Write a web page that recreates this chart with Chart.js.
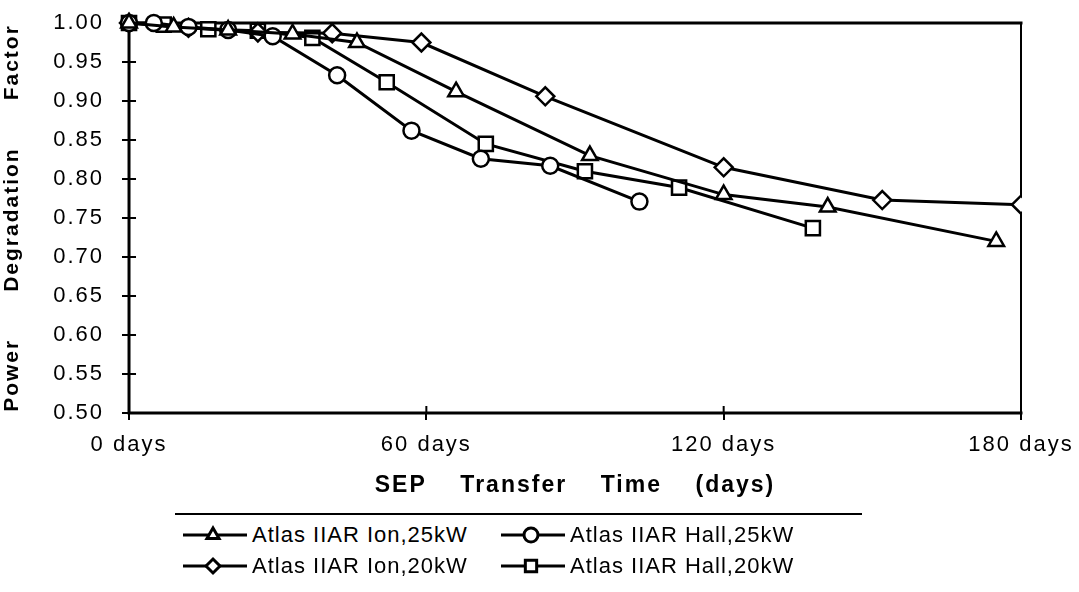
<!DOCTYPE html>
<html>
<head>
<meta charset="utf-8">
<script src="https://cdn.jsdelivr.net/npm/chart.js@4.4.1/dist/chart.umd.min.js"></script>
<style>
  html, body { margin: 0; padding: 0; background: #fff; }
  #wrap { position: relative; width: 1079px; height: 592px; overflow: hidden; }
  canvas#degradation { display: block; }
  #legend {
    position: absolute; left: 175px; top: 513px; width: 687px;
    border-top: 2px solid #000; padding: 6px 0 0 8px; box-sizing: border-box;
    display: grid; grid-template-columns: 318px auto; row-gap: 3px;
    font-family: 'Liberation Sans', sans-serif; font-size: 22px; letter-spacing: 1px; color: #000;
  }
  #legend .item { display: flex; align-items: center; height: 28px; white-space: nowrap; }
  #legend .item canvas { display: block; margin-right: 5px; }
</style>
</head>
<body>
<div id="wrap">
  <canvas id="degradation" width="1079" height="500"></canvas>
  <div id="legend"></div>
</div>
<script>
// series, in legend order (row by row)
const seriesNames = ['Atlas IIAR Ion,25kW', 'Atlas IIAR Hall,25kW', 'Atlas IIAR Ion,20kW', 'Atlas IIAR Hall,20kW'];
const seriesMarkers = ['triangle', 'circle', 'rectRot', 'rect'];

const ion25Days = [0, 9, 20, 33, 46, 66, 93, 120, 141, 175];
const ion25Values = [1.000, 0.995, 0.991, 0.986, 0.975, 0.912, 0.830, 0.780, 0.764, 0.720];

const hall25Days = [0, 5, 12, 20, 29, 42, 57, 71, 85, 103];
const hall25Values = [1.000, 1.000, 0.995, 0.991, 0.983, 0.933, 0.862, 0.826, 0.817, 0.771];

const ion20Days = [0, 12, 26, 41, 59, 84, 120, 152, 180];
const ion20Values = [1.000, 0.994, 0.988, 0.987, 0.975, 0.906, 0.815, 0.773, 0.767];

const hall20Days = [0, 7, 16, 26, 37, 52, 72, 92, 111, 138];
const hall20Values = [1.000, 0.998, 0.992, 0.990, 0.981, 0.924, 0.845, 0.810, 0.789, 0.737];

const xTicks = [0, 60, 120, 180];
const xTickLabels = ['0 days', '60 days', '120 days', '180 days'];

const allDays = [ion25Days, hall25Days, ion20Days, hall20Days];
const allValues = [ion25Values, hall25Values, ion20Values, hall20Values];
const markerRadius = {triangle: 9, circle: 8, rectRot: 9, rect: 10};

function toPoints(days, values) {
  return days.map((d, i) => ({x: d, y: values[i]}));
}

// little "line with marker" picture for the legend
function legendSample(style) {
  const c = document.createElement('canvas');
  c.width = 64;
  c.height = 20;
  const g = c.getContext('2d');
  g.strokeStyle = '#000';
  g.lineWidth = 3;
  g.beginPath();
  g.moveTo(0, 10);
  g.lineTo(64, 10);
  g.stroke();
  g.fillStyle = '#fff';
  Chart.helpers.drawPoint(g, {pointStyle: style, radius: style === 'rect' ? 8 : 7, borderWidth: 2.5, rotation: 0}, 30, 10);
  return c;
}

const datasets = seriesNames.map((name, i) => ({
  label: name,
  data: toPoints(allDays[i], allValues[i]),
  borderColor: '#000',
  borderWidth: 3,
  pointStyle: seriesMarkers[i],
  pointRadius: markerRadius[seriesMarkers[i]],
  pointBorderWidth: 2.5,
  pointBackgroundColor: '#fff',
  pointBorderColor: '#000',
  tension: 0,
  clip: {left: false, top: false, right: 1, bottom: false}
}));

const framePlugin = {
  id: 'frame',
  beforeUpdate(chart) { chart.ctx.letterSpacing = '2px'; },
  beforeDraw(chart) { chart.ctx.letterSpacing = '2px'; },
  beforeDatasetsDraw(chart) {
    const {ctx, chartArea: a, scales} = chart;
    ctx.save();
    ctx.strokeStyle = '#000';
    ctx.lineCap = 'square';
    ctx.lineWidth = 3;
    ctx.beginPath();
    ctx.moveTo(a.right, a.top);
    ctx.lineTo(a.left, a.top);
    ctx.lineTo(a.left, a.bottom);
    ctx.lineTo(a.right, a.bottom);
    ctx.stroke();
    ctx.lineWidth = 2;
    ctx.beginPath();
    ctx.moveTo(a.right, a.top);
    ctx.lineTo(a.right, a.bottom);
    // inner half of the tick crosses
    scales.y.ticks.forEach(t => {
      const y = scales.y.getPixelForValue(t.value);
      ctx.moveTo(a.left, y);
      ctx.lineTo(a.left + 6, y);
    });
    scales.x.ticks.forEach(t => {
      const x = scales.x.getPixelForValue(t.value);
      ctx.moveTo(x, a.bottom);
      ctx.lineTo(x, a.bottom - 6);
    });
    ctx.stroke();
    ctx.restore();
  }
};

const font = 'Liberation Sans';

const chart = new Chart(document.getElementById('degradation'), {
  type: 'line',
  data: {datasets},
  plugins: [framePlugin],
  options: {
    responsive: false,
    animation: false,
    layout: {autoPadding: false, padding: {top: 0, right: 1, bottom: 1, left: 0}},
    plugins: {
      tooltip: {enabled: false},
      legend: {display: false}
    },
    scales: {
      x: {
        type: 'linear',
        min: 0,
        max: 180,
        afterBuildTicks(scale) { scale.ticks = xTicks.map(v => ({value: v})); },
        afterFit(scale) { scale.paddingRight = Math.min(scale.paddingRight, 58); },
        ticks: {
          color: '#000',
          font: {family: font, size: 22},
          padding: 12,
          maxRotation: 0,
          callback: v => xTickLabels[xTicks.indexOf(v)]
        },
        grid: {drawOnChartArea: false, drawTicks: true, tickLength: 7, color: '#000', lineWidth: 2},
        border: {display: false},
        title: {
          display: true,
          text: 'SEP    Transfer    Time    (days)',
          color: '#000',
          font: {family: font, size: 23, weight: 'bold'},
          padding: {top: 1, bottom: 0}
        }
      },
      y: {
        min: 0.5,
        max: 1.0,
        afterFit(scale) { scale.paddingTop = 23; },
        ticks: {
          stepSize: 0.05,
          color: '#000',
          font: {family: font, size: 22},
          padding: 18,
          callback: v => v.toFixed(2)
        },
        grid: {drawOnChartArea: false, drawTicks: true, tickLength: 7, color: '#000', lineWidth: 2},
        border: {display: false},
        title: {
          display: true,
          text: 'Power      Degradation      Factor',
          color: '#000',
          font: {family: font, size: 21, weight: 'bold'},
          padding: {top: 0, bottom: 10}
        }
      }
    }
  }
});

// html legend built from the datasets
const legendBox = document.getElementById('legend');
chart.data.datasets.forEach((ds, i) => {
  const item = document.createElement('div');
  item.className = 'item';
  item.appendChild(legendSample(seriesMarkers[i]));
  const label = document.createElement('span');
  label.textContent = ds.label;
  item.appendChild(label);
  legendBox.appendChild(item);
});
</script>
</body>
</html>
